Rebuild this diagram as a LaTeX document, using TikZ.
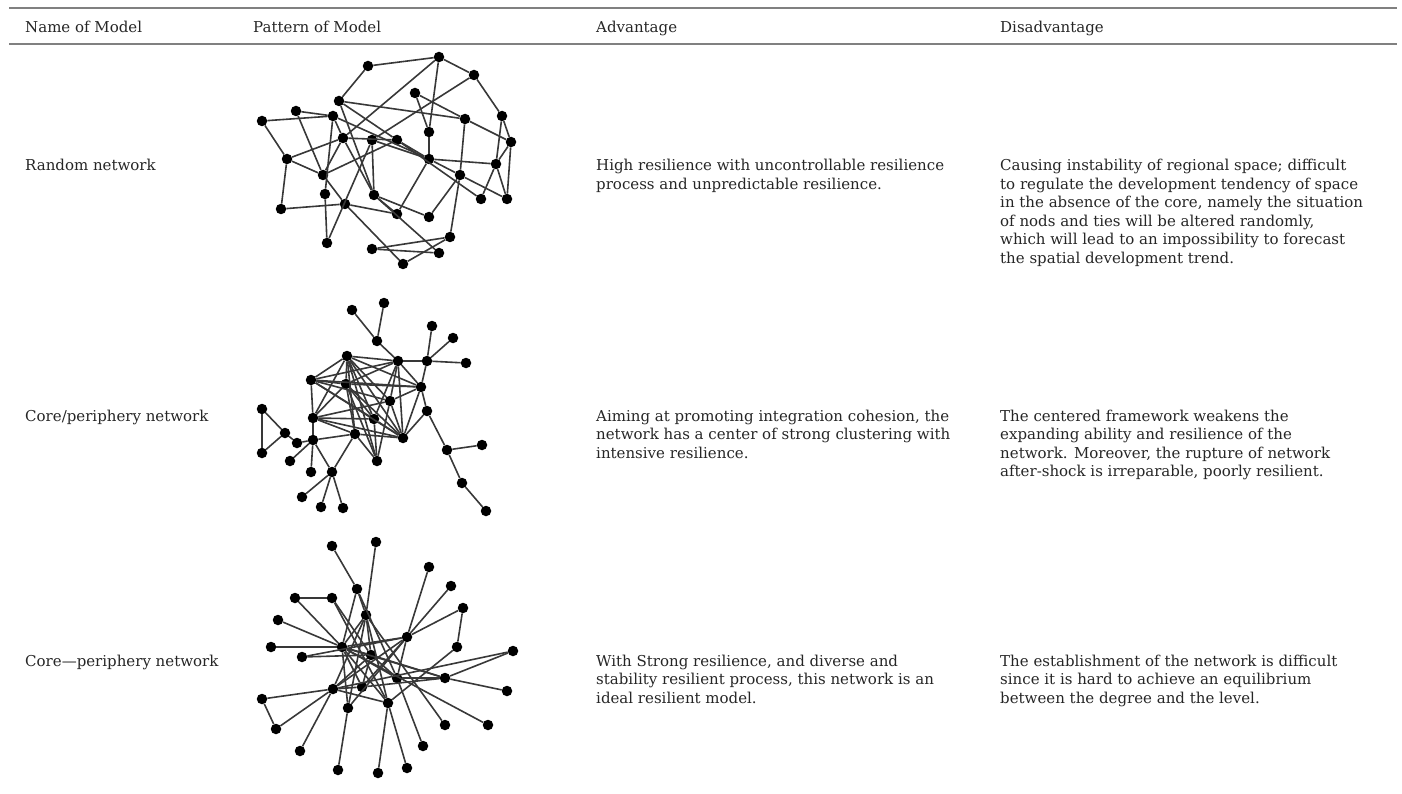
\documentclass[tikz,border=0pt]{standalone}
\usepackage{fontspec}
\setmainfont{DejaVu Serif}

\tikzset{
  dot/.style={circle, fill=black, inner sep=0pt, minimum size=10.5pt},
  tie/.style={line width=1.6pt, black!78},
  cell/.style={anchor=base west, inner sep=0pt, text=black!85, font=\fontsize{15}{18}\selectfont},
  rule/.style={line width=1.8pt, black!50}
}

\begin{document}
\begin{tikzpicture}[x=1pt, y=-1pt]
\useasboundingbox (0,0) rectangle (1402,794);

% table rules
\coordinate (tl) at (9,8);  \coordinate (tr) at (1397,8);
\coordinate (hl) at (9,44); \coordinate (hr) at (1397,44);
\draw[rule] (tl) -- (tr);
\draw[rule] (hl) -- (hr);

% header
\node[cell] (hname) at (25,33) {Name of Model};
\node[cell] (hpat) at (253,33) {Pattern of Model};
\node[cell] (hadv) at (596,33) {Advantage};
\node[cell] (hdis) at (1000,33) {Disadvantage};

% row 1
\node[cell] (name1) at (25,171) {Random network};
\foreach \t [count=\i] in {{High resilience with uncontrollable resilience},
    {process and unpredictable resilience.}}
  \node[cell] (adv1-\i) at (596,{171+18.5*(\i-1)}) {\t};
\foreach \t [count=\i] in {{Causing instability of regional space; difficult},
    {to regulate the development tendency of space},
    {in the absence of the core, namely the situation},
    {of nods and ties will be altered randomly,},
    {which will lead to an impossibility to forecast},
    {the spatial development trend.}}
  \node[cell] (dis1-\i) at (1000,{171+18.5*(\i-1)}) {\t};

% row 2
\node[cell] (name2) at (25,421) {Core/periphery network};
\foreach \t [count=\i] in {{Aiming at promoting integration cohesion, the},
    {network has a center of strong clustering with},
    {intensive resilience.}}
  \node[cell] (adv2-\i) at (596,{421+18.5*(\i-1)}) {\t};
\foreach \t [count=\i] in {{The centered framework weakens the},
    {expanding ability and resilience of the},
    {network. Moreover, the rupture of network},
    {after-shock is irreparable, poorly resilient.}}
  \node[cell] (dis2-\i) at (1000,{421+18.5*(\i-1)}) {\t};

% row 3
\node[cell] (name3) at (25,666) {Core—periphery network};
\foreach \t [count=\i] in {{With Strong resilience, and diverse and},
    {stability resilient process, this network is an},
    {ideal resilient model.}}
  \node[cell] (adv3-\i) at (596,{666+18.5*(\i-1)}) {\t};
\foreach \t [count=\i] in {{The establishment of the network is difficult},
    {since it is hard to achieve an equilibrium},
    {between the degree and the level.}}
  \node[cell] (dis3-\i) at (1000,{666+18.5*(\i-1)}) {\t};

% random network
\foreach \n/\x/\y in {1/368/66, 2/439/57, 3/474/75, 4/415/93, 5/339/101, 6/296/111,
    7/262/121, 8/333/116, 9/465/119, 10/502/116, 11/429/132, 12/511/142, 13/343/138,
    14/372/140, 15/397/140, 16/287/159, 17/429/159, 18/496/164, 19/323/175, 20/460/175,
    21/325/194, 22/374/195, 23/345/204, 24/481/199, 25/507/199, 26/281/209, 27/397/214,
    28/429/217, 29/450/237, 30/327/243, 31/372/249, 32/439/253, 33/403/264}
  \node[dot] (r\n) at (\x,\y) {};
\foreach \a/\b in {1/2, 1/5, 2/3, 2/11, 2/13, 3/10, 3/14, 4/9, 4/11, 5/9, 5/15, 5/22,
    6/19, 6/8, 7/8, 7/16, 8/21, 8/17, 8/13, 9/12, 9/20, 10/12, 10/18, 11/17, 12/25,
    12/18, 13/16, 13/19, 13/15, 13/22, 14/30, 14/22, 14/17, 15/17, 15/24, 17/18, 17/20,
    17/27, 18/24, 18/25, 20/25, 20/29, 16/19, 16/26, 26/23, 23/27, 19/23, 21/30, 22/27,
    22/28, 22/32, 29/31, 29/33, 31/32, 23/33, 28/20, 19/15}
  \draw[tie] (r\a) -- (r\b);

% core/periphery network
\foreach \n/\x/\y in {1/352/310, 2/384/303, 3/377/341, 4/432/326, 5/453/338, 6/466/363,
    7/427/361, 8/398/361, 9/347/356, 10/311/380, 11/346/384, 12/421/387, 13/390/401,
    14/427/411, 15/313/418, 16/374/419, 17/262/409, 18/285/433, 19/297/443, 20/313/440,
    21/355/434, 22/403/438, 23/262/453, 24/290/461, 25/377/461, 26/447/450, 27/482/445,
    28/311/472, 29/332/472, 30/462/483, 31/302/497, 32/321/507, 33/343/508, 34/486/511}
  \node[dot] (c\n) at (\x,\y) {};
\foreach \a/\b in {1/3, 2/3, 3/8, 8/7, 7/4, 7/5, 7/6, 7/12, 12/14, 14/26, 26/27, 26/30,
    30/34, 17/18, 17/23, 18/23, 18/19, 19/20, 20/24, 20/28, 20/29, 20/21, 20/15, 29/21,
    29/31, 29/32, 29/33, 8/22, 8/9, 8/11, 8/10, 8/16, 8/13, 8/12, 9/10, 9/11, 9/12,
    9/13, 9/15, 9/16, 9/21, 9/22, 9/25, 10/11, 10/12, 10/15, 10/13, 10/16, 10/22, 11/12,
    11/15, 11/16, 11/21, 11/22, 11/25, 15/13, 15/16, 15/21, 15/22, 16/22, 16/25, 13/22,
    13/25, 13/12, 21/25, 21/22, 12/22, 14/22}
  \draw[tie] (c\a) -- (c\b);

% core--periphery network
\foreach \n/\x/\y in {1/332/546, 2/376/542, 3/429/567, 4/451/586, 5/357/589, 6/295/598,
    7/332/598, 8/463/608, 9/366/615, 10/278/620, 11/407/637, 12/271/647, 13/342/647,
    14/457/647, 15/513/651, 16/302/657, 17/371/655, 18/397/678, 19/445/678, 20/333/689,
    21/362/687, 22/507/691, 23/262/699, 24/388/703, 25/348/708, 26/445/725, 27/488/725,
    28/276/729, 29/423/746, 30/300/751, 31/338/770, 32/407/768, 33/378/773}
  \node[dot] (s\n) at (\x,\y) {};
\foreach \a/\b in {1/5, 5/9, 5/13, 5/18, 2/9, 6/7, 6/13, 7/17, 7/24, 10/13, 12/13,
    16/11, 16/17, 3/11, 4/11, 8/11, 8/14, 15/19, 19/18, 19/22, 19/13, 13/27, 9/26,
    18/29, 24/32, 24/33, 20/30, 20/23, 23/28, 28/20, 25/31, 11/25, 11/20, 11/13, 11/18,
    9/13, 9/17, 9/20, 9/25, 13/17, 13/18, 13/21, 13/24, 17/18, 17/20, 17/19, 21/11,
    21/17, 21/19, 20/21, 20/24, 13/25, 9/24, 14/24, 15/20}
  \draw[tie] (s\a) -- (s\b);
\end{tikzpicture}
\end{document}
